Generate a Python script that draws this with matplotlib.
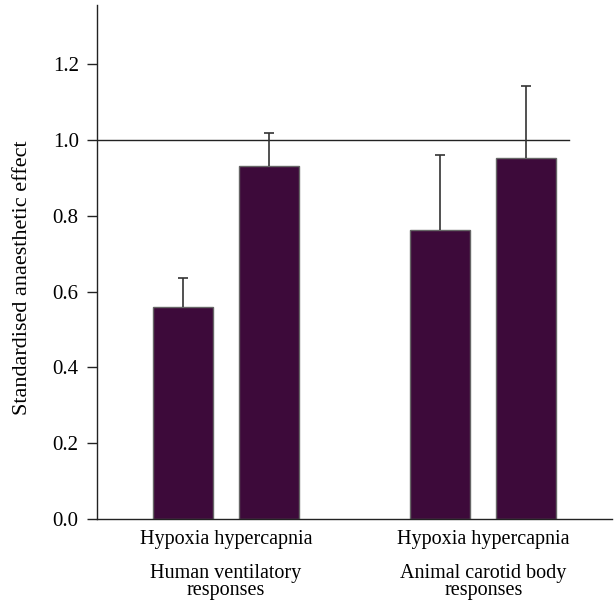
import numpy as np
import matplotlib.pyplot as plt

plt.rcParams['font.family'] = ['Liberation Serif', 'DejaVu Serif']

# data
bar_pos = [0, 1, 3, 4]
bar_vals = [0.56, 0.93, 0.762, 0.952]
err_up = [0.075, 0.087, 0.197, 0.19]
group_centres = [0.5, 3.5]
tick_text = ['Hypoxia hypercapnia', 'Hypoxia hypercapnia']
group_text = ['Human ventilatory\nresponses', 'Animal carotid body\nresponses']
yticks = [0.0, 0.2, 0.4, 0.6, 0.8, 1.0, 1.2]

bar_colour = '#3d0a3a'

fig = plt.figure(figsize=(6.16, 6.02), dpi=100)
ax = fig.add_axes([0.1575, 0.1379, 0.836, 0.8538])

ax.bar(bar_pos, bar_vals, width=0.7, color=bar_colour, edgecolor='#666666',
       linewidth=1.0, zorder=2)
eb = ax.errorbar(bar_pos, bar_vals, yerr=[np.zeros(len(err_up)), err_up], fmt='none',
                 ecolor='#333333', elinewidth=1.2, capsize=3.6, capthick=1.2, zorder=3)
# only the upper caps are drawn in the original
eb[1][0].set_visible(False)

# reference line at 1.0
ax.plot([-1, 4.5], [1.0, 1.0], color='#222222', linewidth=1.0, zorder=1)

ax.set_xlim(-1, 5)
ax.set_ylim(0, 1.356)
ax.set_yticks(yticks)
ax.set_yticklabels([f'{v:.1f}' for v in yticks], fontsize=15)
ax.tick_params(axis='y', direction='out', length=7.2, width=1, pad=6, color='#222222')
ax.set_xticks(group_centres)
ax.set_xticklabels(tick_text, fontsize=14.5)
ax.tick_params(axis='x', length=0, pad=8)

for xc, txt in zip(group_centres, group_text):
    ax.text(xc, -0.119, txt, ha='center', va='top', fontsize=14.5, linespacing=0.85)

ax.set_ylabel('Standardised anaesthetic effect', fontsize=16)
ax.yaxis.set_label_coords(-0.126, 0.47)

for s in ['top', 'right']:
    ax.spines[s].set_visible(False)
for s in ['left', 'bottom']:
    ax.spines[s].set_color('#222222')
    ax.spines[s].set_linewidth(1.0)

fig.savefig('out.png', dpi=100)
